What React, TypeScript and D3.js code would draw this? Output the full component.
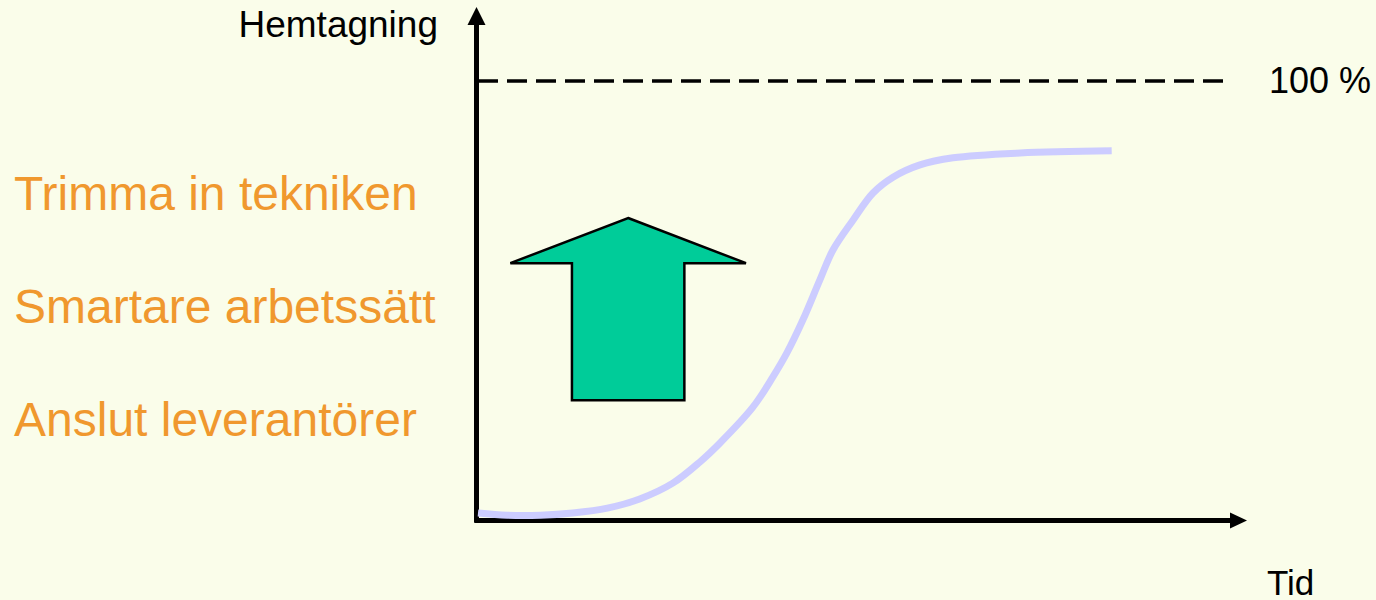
import * as d3 from "d3";

const W = 1376;
const H = 600;

// uptake curve: time (arbitrary units) vs hemtagning (%)
const timeValues = [0, 3.8, 8.1, 12.3, 16.8, 21.0, 25.3, 28.8, 31.4, 35.7, 38.3, 40.1, 42.2, 44.4, 46.1, 48.7, 51.3, 53.9, 57.4, 61.7, 70.4, 82.3];
const uptakeValues = [1.6, 1.1, 1.1, 1.6, 2.7, 4.8, 8.4, 13.2, 17.5, 25.7, 32.6, 38.0, 45.6, 54.7, 61.5, 68.3, 74.5, 78.1, 80.9, 82.5, 83.6, 84.1];

const actions = ["Trimma in tekniken", "Smartare arbetssätt", "Anslut leverantörer"];
const targetLabel = "100 %";
const target = 100;

// big up arrow, in data units
const arrowCenter = 19.5;
const arrowTip = 68.8;
const arrowWing = 58.5;
const arrowBase = 27.3;
const arrowHeadHalf = 15.3;
const arrowShaftHalf = 7.3;

const FONT = "'Liberation Sans', Arial, sans-serif";

const x = d3.scaleLinear().domain([0, 100]).range([478, 1248]);
const y = d3.scaleLinear().domain([0, 100]).range([520, 81]);

export default function App() {
  const points = timeValues.map((t, i) => [t, uptakeValues[i]] as [number, number]);
  const curve = d3
    .line<[number, number]>()
    .x((d) => x(d[0]))
    .y((d) => y(d[1]))
    .curve(d3.curveCatmullRom.alpha(0.5))(points);

  const arrowPts: [number, number][] = [
    [arrowCenter, arrowTip],
    [arrowCenter + arrowHeadHalf, arrowWing],
    [arrowCenter + arrowShaftHalf, arrowWing],
    [arrowCenter + arrowShaftHalf, arrowBase],
    [arrowCenter - arrowShaftHalf, arrowBase],
    [arrowCenter - arrowShaftHalf, arrowWing],
    [arrowCenter - arrowHeadHalf, arrowWing],
  ];
  const arrowPath = arrowPts.map((p) => `${x(p[0])},${y(p[1])}`).join(" ");

  const x0 = x(0) - 1.5;
  const y0 = y(0) + 0.5;
  const xEnd = x(100);

  return (
    <div style={{ position: "absolute", left: 0, top: 0, width: W, height: H }}>
      <svg width={W} height={H} style={{ display: "block" }}>
        <rect width={W} height={H} fill="#FAFDEA" />

        {/* target line */}
        <line
          x1={x(0)}
          x2={1230}
          y1={y(target)}
          y2={y(target)}
          stroke="#000"
          strokeWidth={3.5}
          strokeDasharray="20,9"
        />
        <text x={1269} y={93} fontFamily={FONT} fontSize={36} fill="#000">
          {targetLabel}
        </text>

        {/* y axis */}
        <line x1={x0} x2={x0} y1={y0 + 2} y2={24} stroke="#000" strokeWidth={5} />
        <polygon points={`${x0},7 ${x0 + 9},25 ${x0 - 9},25`} fill="#000" />
        <text x={438} y={37} textAnchor="end" fontFamily={FONT} fontSize={37} fill="#000">
          Hemtagning
        </text>

        {/* x axis */}
        <line x1={x0 - 2} x2={xEnd - 17} y1={y0} y2={y0} stroke="#000" strokeWidth={5} />
        <polygon
          points={`${xEnd - 1},${y0} ${xEnd - 18},${y0 - 8} ${xEnd - 18},${y0 + 8}`}
          fill="#000"
        />
        <text x={1267} y={595} fontFamily={FONT} fontSize={35} fill="#000">
          Tid
        </text>

        {/* uptake curve */}
        <path d={curve ?? ""} fill="none" stroke="#CCCCFF" strokeWidth={7} />

        {/* arrow */}
        <polygon points={arrowPath} fill="#00CC99" stroke="#000" strokeWidth={2.5} />

        {actions.map((a, i) => (
          <text key={a} x={14} y={210 + i * 113} fontFamily={FONT} fontSize={48} fill="#F0982E">
            {a}
          </text>
        ))}
      </svg>
    </div>
  );
}
